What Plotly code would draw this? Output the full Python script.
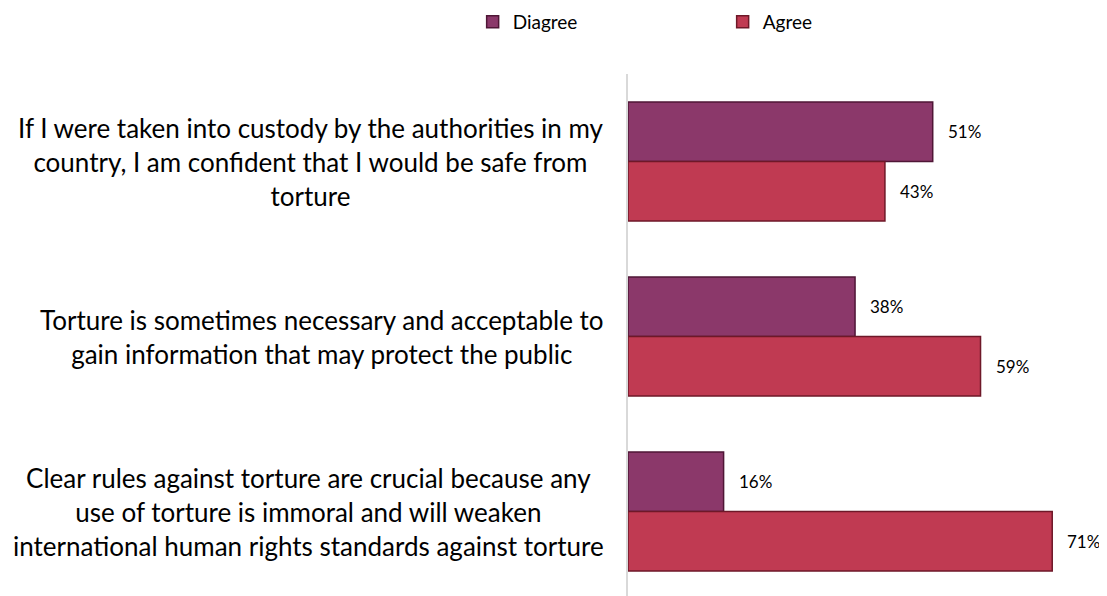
import plotly.graph_objects as go

categories = [
    "If I were taken into custody by the authorities in my<br>country, I am confident that I would be safe from<br>torture",
    "Torture is sometimes necessary and acceptable to<br>gain information that may protect the public",
    "Clear rules against torture are crucial because any<br>use of torture is immoral and will weaken<br>international human rights standards against torture",
]
series_names = ["Diagree", "Agree"]
disagree = [51, 38, 16]
agree = [43, 59, 71]
colors = ["#8b386a", "#c03a52"]
edge = ["#4f1636", "#6e1828"]

FONT = "Lato"
fig = go.Figure()
for name, vals, c, e in zip(series_names, [disagree, agree], colors, edge):
    fig.add_trace(go.Bar(
        y=list(range(len(categories))), x=vals, name=name, orientation="h",
        marker=dict(color=c, line=dict(color=e, width=1.5)),
        hoverinfo="x+name",
    ))

GAP = 0.32
annotations = []
bw = (1 - GAP) / 2
for k, vals in enumerate([disagree, agree]):
    off = -bw / 2 if k == 0 else bw / 2
    for i, v in enumerate(vals):
        annotations.append(dict(x=v, y=i + off, xref="x", yref="y", text=f"{v}%",
                                showarrow=False, xanchor="left", xshift=13,
                                font=dict(family=FONT, size=17, color="#000")))
for i, cat in enumerate(categories):
    annotations.append(dict(x=0, y=i, xref="paper", yref="y", text=cat, showarrow=False,
                            xanchor="right", align="center", xshift=-22,
                            font=dict(family=FONT, size=26, color="#000")))

fig.update_layout(
    width=1107, height=596,
    margin=dict(l=620, r=9, t=66, b=5, autoexpand=False),
    plot_bgcolor="white", paper_bgcolor="white",
    barmode="group", bargap=GAP, bargroupgap=0,
    font=dict(family=FONT, color="#000"),
    xaxis=dict(range=[0, 80], visible=False),
    yaxis=dict(autorange="reversed", showticklabels=False, showgrid=False, zeroline=False,
               showline=True, linecolor="#d9d9d9", linewidth=2),
    legend=dict(orientation="h", xref="paper", yref="container",
                x=-0.325, xanchor="left", y=0.9765, yanchor="middle",
                entrywidth=205, entrywidthmode="pixels", itemwidth=30,
                font=dict(family=FONT, size=19)),
    annotations=annotations,
)
fig.write_html("out.html")
